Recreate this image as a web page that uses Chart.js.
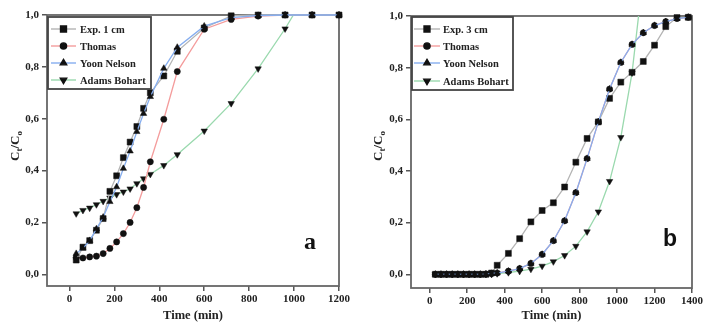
<!DOCTYPE html>
<html>
<head>
<meta charset="utf-8">
<script src="https://cdn.jsdelivr.net/npm/chart.js@4.4.0/dist/chart.umd.min.js"></script>
<style>
    body { margin: 0; background: #fff; }
    .panel { position: absolute; top: 0; width: 359px; height: 324px; }
    #panel-a { left: 0; }
    #panel-b { left: 359px; }
</style>
</head>
<body>
<div class="panel" id="panel-a"><canvas id="graficaA" width="359" height="324"></canvas></div>
<div class="panel" id="panel-b"><canvas id="graficaB" width="359" height="324"></canvas></div>
<script>
// Datos del panel a (lecho de 1 cm)
const tiempoA = [30, 60, 90, 120, 150, 180, 210, 240, 270, 300, 330, 360, 420, 480, 600, 720, 840, 960, 1080, 1200];
const expA = [0.055, 0.105, 0.13, 0.17, 0.215, 0.32, 0.38, 0.45, 0.51, 0.57, 0.64, 0.70, 0.765, 0.86, 0.95, 0.997, 1.0, 1.0, 1.0, 1.0];
const thomasA = [0.065, 0.063, 0.067, 0.07, 0.08, 0.10, 0.125, 0.157, 0.20, 0.257, 0.335, 0.434, 0.598, 0.782, 0.945, 0.983, 0.996, 1.0, 1.0, 1.0];
const yoonA = [0.08, 0.10, 0.13, 0.175, 0.22, 0.28, 0.337, 0.408, 0.475, 0.55, 0.62, 0.685, 0.794, 0.875, 0.957, 0.99, 0.998, 1.0, 1.0, 1.0];
const adamsA = [0.234, 0.247, 0.256, 0.269, 0.282, 0.295, 0.308, 0.318, 0.33, 0.35, 0.369, 0.386, 0.42, 0.462, 0.553, 0.659, 0.793, 0.947, 1.12];

// Datos del panel b (lecho de 3 cm)
const tiempoB = [30, 60, 90, 120, 150, 180, 210, 240, 270, 300, 330, 360, 420, 480, 540, 600, 660, 720, 780, 840, 900, 960, 1020, 1080, 1140, 1200, 1260, 1320, 1380];
const expB = [0, 0, 0, 0, 0, 0, 0, 0, 0, 0, 0.005, 0.035, 0.081, 0.138, 0.203, 0.247, 0.277, 0.338, 0.434, 0.526, 0.59, 0.681, 0.744, 0.782, 0.824, 0.887, 0.959, 0.994, 0.995];
const thomasB = [0, 0, 0, 0, 0, 0, 0, 0, 0, 0.001, 0.003, 0.005, 0.012, 0.022, 0.042, 0.077, 0.13, 0.207, 0.316, 0.448, 0.59, 0.717, 0.82, 0.89, 0.935, 0.963, 0.978, 0.99, 0.995];
const yoonB = [0, 0, 0, 0, 0, 0, 0, 0, 0, 0.001, 0.003, 0.005, 0.012, 0.022, 0.042, 0.077, 0.13, 0.207, 0.316, 0.448, 0.59, 0.717, 0.82, 0.89, 0.935, 0.963, 0.978, 0.99, 0.995];
const adamsB = [0, 0, 0, 0, 0, 0, 0, 0, 0, 0, 0, 0.003, 0.007, 0.012, 0.02, 0.032, 0.049, 0.073, 0.109, 0.165, 0.242, 0.36, 0.53, 0.78, 1.16];

// Etiquetas de ejes y leyendas
const ticksXA = [0, 200, 400, 600, 800, 1000, 1200];
const ticksXB = [0, 200, 400, 600, 800, 1000, 1200, 1400];
const ticksY = [0, 0.2, 0.4, 0.6, 0.8, 1.0];
const leyendaA = ['Exp. 1 cm', 'Thomas', 'Yoon Nelson', 'Adams Bohart'];
const leyendaB = ['Exp. 3 cm', 'Thomas', 'Yoon Nelson', 'Adams Bohart'];

// Estilo de cada serie (mismo orden que las leyendas)
const estilos = [
    { color: '#b4b4b4', punto: 'rect', radio: 4.2, giro: 0, orden: 1 },
    { color: '#f49c9c', punto: 'circle', radio: 3.1, giro: 0, orden: 2 },
    { color: '#86aeef', punto: 'triangle', radio: 3.7, giro: 0, orden: 0 },
    { color: '#9ad9ae', punto: 'triangle', radio: 3.7, giro: 180, orden: 3 }
];

const serif = '"Liberation Serif", "Times New Roman", serif';

function aPuntos(xs, ys) {
    return ys.map((y, i) => ({ x: xs[i], y: y }));
}

// Dibuja marco, leyenda, titulo del eje Y y la letra del panel
function pluginDecoracion(p) {
    return {
        id: 'decoracion',
        beforeDatasetsDraw(chart) {
            let ctx = chart.ctx;
            let a = chart.chartArea;
            ctx.save();
            ctx.strokeStyle = '#666';
            ctx.lineWidth = 1.8;
            ctx.strokeRect(a.left, a.top, a.right - a.left, a.bottom - a.top);
            ctx.restore();
        },
        afterDatasetsDraw(chart) {
            let ctx = chart.ctx;
            ctx.save();

            // Leyenda
            let L = p.leyenda;
            ctx.fillStyle = '#fff';
            ctx.fillRect(L.x, L.y, L.w, L.h);
            ctx.strokeStyle = '#444';
            ctx.lineWidth = 1.8;
            ctx.strokeRect(L.x, L.y, L.w, L.h);
            p.etiquetas.forEach((txt, i) => {
                let y = L.filas[i];
                let e = estilos[i];
                ctx.strokeStyle = e.color;
                ctx.lineWidth = 1.4;
                ctx.beginPath();
                ctx.moveTo(L.x0, y);
                ctx.lineTo(L.x1, y);
                ctx.stroke();
                ctx.fillStyle = '#111';
                ctx.strokeStyle = '#111';
                Chart.helpers.drawPoint(ctx, { pointStyle: e.punto, radius: e.radio, rotation: e.giro, borderWidth: 0.5 }, (L.x0 + L.x1) / 2, y);
                ctx.fillStyle = '#222';
                ctx.font = 'bold 10.5px ' + serif;
                ctx.textBaseline = 'middle';
                ctx.textAlign = 'left';
                ctx.fillText(txt, L.xt, y + 1);
            });

            // Titulo del eje Y: Ct/Co con subindices
            ctx.translate(p.tituloY.x, p.tituloY.y);
            ctx.rotate(-Math.PI / 2);
            ctx.fillStyle = '#222';
            ctx.textBaseline = 'alphabetic';
            let partes = [['C', 13, 0], ['t', 9, 3], ['/C', 13, 0], ['o', 9, 3]];
            let ancho = 0;
            partes.forEach(pt => { ctx.font = 'bold ' + pt[1] + 'px ' + serif; ancho += ctx.measureText(pt[0]).width; });
            let cx = -ancho / 2;
            partes.forEach(pt => {
                ctx.font = 'bold ' + pt[1] + 'px ' + serif;
                ctx.fillText(pt[0], cx, 4 + pt[2]);
                cx += ctx.measureText(pt[0]).width;
            });
            ctx.setTransform(1, 0, 0, 1, 0, 0);

            // Letra del panel
            ctx.font = p.letra.fuente;
            ctx.fillStyle = '#111';
            ctx.textAlign = 'center';
            ctx.textBaseline = 'middle';
            ctx.fillText(p.letra.texto, p.letra.x, p.letra.y);
            ctx.restore();
        }
    };
}

function crearGrafica(id, p) {
    let series = [p.exp, p.thomas, p.yoon, p.adams];
    let datasets = series.map((ys, i) => {
        let e = estilos[i];
        return {
            label: p.etiquetas[i],
            data: aPuntos(p.tiempo, ys),
            borderColor: e.color,
            borderWidth: 1.3,
            pointStyle: e.punto,
            pointRadius: e.radio,
            pointRotation: e.giro,
            pointBackgroundColor: '#111',
            pointBorderColor: '#111',
            pointBorderWidth: 0.5,
            tension: 0,
            order: e.orden,
            clip: i === 3 ? { left: 8, top: 0, right: 8, bottom: 8 } : false
        };
    });

    let fuenteTicks = { family: serif, size: 11, weight: 'bold' };

    return new Chart(document.getElementById(id), {
        type: 'line',
        data: { datasets: datasets },
        options: {
            responsive: false,
            animation: false,
            events: [],
            layout: { padding: { top: p.margen.top, right: p.margen.right, left: 0, bottom: 0 } },
            plugins: { legend: { display: false }, tooltip: { enabled: false } },
            scales: {
                x: {
                    type: 'linear',
                    min: -100,
                    max: p.xMax,
                    afterBuildTicks: s => { s.ticks = p.ticksX.map(v => ({ value: v })); },
                    afterFit: s => { s.height = p.altoX; },
                    ticks: { font: fuenteTicks, color: '#222', padding: 2, maxRotation: 0, autoSkip: false, callback: v => String(v) },
                    grid: { drawOnChartArea: false, drawTicks: true, tickLength: 5, color: '#555', lineWidth: 1.5 },
                    border: { display: false },
                    title: { display: true, text: 'Time (min)', color: '#222', font: { family: serif, size: 12.5, weight: 'bold' }, padding: { top: 0, bottom: 1 } }
                },
                y: {
                    type: 'linear',
                    min: p.yMin,
                    max: 1,
                    afterBuildTicks: s => { s.ticks = ticksY.map(v => ({ value: v })); },
                    afterFit: s => { s.width = p.anchoY; },
                    ticks: { font: fuenteTicks, color: '#222', padding: 3, callback: v => v.toFixed(1).replace('.', ',') },
                    grid: { drawOnChartArea: false, drawTicks: true, tickLength: 5, color: '#555', lineWidth: 1.5 },
                    border: { display: false }
                }
            }
        },
        plugins: [pluginDecoracion(p)]
    });
}

document.addEventListener('DOMContentLoaded', function() {
    crearGrafica('graficaA', {
        tiempo: tiempoA, exp: expA, thomas: thomasA, yoon: yoonA, adams: adamsA,
        etiquetas: leyendaA, ticksX: ticksXA, xMax: 1200, yMin: -0.045,
        anchoY: 47, altoX: 38, margen: { top: 15, right: 20 },
        leyenda: { x: 48, y: 17, w: 103, h: 72, x0: 51, x1: 76, xt: 80, filas: [29, 46, 63, 80] },
        tituloY: { x: 15, y: 146 },
        letra: { texto: 'a', x: 310, y: 243, fuente: 'bold 24px ' + serif }
    });

    crearGrafica('graficaB', {
        tiempo: tiempoB, exp: expB, thomas: thomasB, yoon: yoonB, adams: adamsB,
        etiquetas: leyendaB, ticksX: ticksXB, xMax: 1400, yMin: -0.053,
        anchoY: 52, altoX: 36, margen: { top: 16, right: 26 },
        leyenda: { x: 53, y: 17, w: 101, h: 73, x0: 55, x1: 81, xt: 84, filas: [29, 46, 63, 81] },
        tituloY: { x: 19, y: 146 },
        letra: { texto: 'b', x: 311, y: 240, fuente: 'bold 23px "Liberation Sans", Arial, sans-serif' }
    });
});
</script>
</body>
</html>
